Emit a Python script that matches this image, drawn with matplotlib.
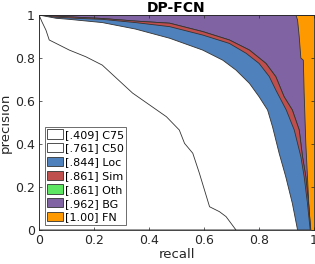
import numpy as np
import matplotlib.pyplot as plt
from matplotlib.patches import Patch

# curves (recall, precision)
c75_r = [0, 0.01, 0.025, 0.037, 0.062, 0.11, 0.17, 0.23, 0.34, 0.463, 0.51, 0.529, 0.559, 0.583, 0.62, 0.656, 0.68, 0.716]
c75_p = [1, 0.97, 0.93, 0.884, 0.868, 0.837, 0.806, 0.767, 0.637, 0.527, 0.465, 0.403, 0.357, 0.264, 0.108, 0.085, 0.062, 0]

c50_r = [0, 0.062, 0.11, 0.23, 0.35, 0.475, 0.595, 0.668, 0.716, 0.765, 0.80, 0.831, 0.849, 0.873, 0.897, 0.921, 0.94]
c50_p = [1, 0.985, 0.98, 0.965, 0.935, 0.892, 0.837, 0.79, 0.744, 0.682, 0.62, 0.558, 0.48, 0.357, 0.248, 0.124, 0]

loc_r = [0, 0.06, 0.134, 0.23, 0.35, 0.475, 0.595, 0.692, 0.753, 0.80, 0.837, 0.861, 0.899, 0.928, 0.952, 0.964, 0.976, 0.986]
loc_p = [1, 0.99, 0.985, 0.98, 0.965, 0.946, 0.907, 0.868, 0.822, 0.775, 0.714, 0.651, 0.558, 0.465, 0.341, 0.248, 0.124, 0]

sim_r = [0, 0.06, 0.134, 0.23, 0.35, 0.475, 0.595, 0.692, 0.765, 0.825, 0.861, 0.891, 0.921, 0.946, 0.958, 0.97, 0.98, 0.988]
sim_p = [1, 0.995, 0.99, 0.984, 0.972, 0.962, 0.923, 0.884, 0.837, 0.775, 0.713, 0.62, 0.558, 0.465, 0.341, 0.248, 0.124, 0]

oth_r = sim_r
oth_p = sim_p

bg_r = [0, 0.934, 0.94, 0.946, 0.952, 0.961, 0.964, 0.97, 0.976, 0.982, 0.986]
bg_p = [1, 1, 0.977, 0.9, 0.8, 0.79, 0.636, 0.403, 0.248, 0.093, 0]

fn_r = [0, 1]
fn_p = [1, 1]

labels = ['[.409] C75', '[.761] C50', '[.844] Loc', '[.861] Sim', '[.861] Oth', '[.962] BG', '[1.00] FN']
colors = [(1, 1, 1), (1, 1, 1), (.31, .51, .74), (.75, .31, .30), (.36, .90, .38), (.50, .39, .64), (1, .6, 0)]

curves = [(c75_r, c75_p), (c50_r, c50_p), (loc_r, loc_p), (sim_r, sim_p),
          (oth_r, oth_p), (bg_r, bg_p), (fn_r, fn_p)]

fig = plt.figure(figsize=(3.15, 2.64), dpi=100)
ax = fig.add_axes([0.124, 0.129, 0.873, 0.814])

# draw from the outermost area inwards
for i in range(len(curves) - 1, -1, -1):
    r, p = curves[i]
    xs = list(r) + [r[-1], 0]
    ys = list(p) + [0, 0]
    ax.fill(xs, ys, facecolor=colors[i], edgecolor='#333333', linewidth=0.6)

ax.set_xlim(0, 1)
ax.set_ylim(0, 1)
ax.set_xticks([0, 0.2, 0.4, 0.6, 0.8, 1])
ax.set_xticklabels(['0', '0.2', '0.4', '0.6', '0.8', '1'])
ax.set_yticks([0, 0.2, 0.4, 0.6, 0.8, 1])
ax.set_yticklabels(['0', '0.2', '0.4', '0.6', '0.8', '1'])
ax.tick_params(direction='in', length=2.5, width=0.5, labelsize=9, top=True, right=True,
               colors='#262626', pad=3)
for s in ax.spines.values():
    s.set_linewidth(0.6)
    s.set_color('#262626')
ax.set_xlabel('recall', fontsize=9.5, labelpad=1, color='#262626')
ax.set_ylabel('precision', fontsize=9.5, labelpad=2, color='#262626')
ax.set_title('DP-FCN', fontsize=10, fontweight='bold', pad=2)

handles = [Patch(facecolor=c, edgecolor='#333333', linewidth=0.6) for c in colors]
leg = ax.legend(handles, labels, loc='lower left', bbox_to_anchor=(0.02, 0.022), borderaxespad=0,
                fontsize=8, fancybox=False, framealpha=1, edgecolor='#555555',
                handlelength=1.4, handleheight=0.9, handletextpad=0.15, labelspacing=0.3,
                borderpad=0.25)
leg.get_frame().set_linewidth(0.6)

fig.savefig('out.png', dpi=100)
